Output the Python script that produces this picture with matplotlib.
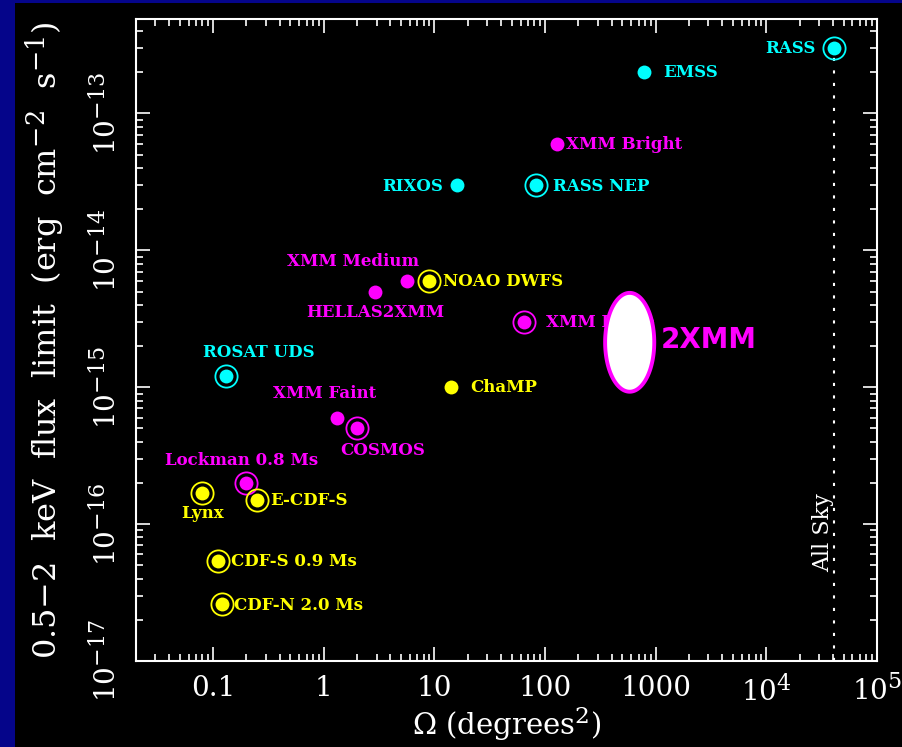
import numpy as np
import matplotlib
matplotlib.use("Agg")
import matplotlib.pyplot as plt
import matplotlib._mathtext as _mt
from matplotlib.patches import Rectangle
from matplotlib.transforms import blended_transform_factory

plt.rcParams['font.family'] = ['DejaVu Serif']
plt.rcParams['mathtext.fontset'] = 'dejavuserif'
# slightly larger exponents than the mathtext default
_mt.SHRINK_FACTOR = 0.8

# Survey name, area (deg^2), 0.5-2 keV flux limit, colour group, has ring
surveys = ["RASS", "EMSS", "XMM Bright", "RASS NEP", "RIXOS", "XMM Medium",
           "HELLAS2XMM", "NOAO DWFS", "XMM Large", "ROSAT UDS", "ChaMP",
           "XMM Faint", "COSMOS", "Lockman 0.8 Ms", "Lynx", "E-CDF-S",
           "CDF-S 0.9 Ms", "CDF-N 2.0 Ms"]
area = [41253, 780, 127, 82, 16, 5.7, 2.9, 9.0, 64, 0.13, 14,
        1.32, 2.0, 0.2, 0.08, 0.25, 0.11, 0.12]
flux = [3e-13, 2e-13, 6e-14, 3e-14, 3e-14, 6e-15, 5e-15, 6e-15, 3e-15,
        1.2e-15, 1e-15, 6e-16, 5e-16, 2e-16, 1.7e-16, 1.5e-16, 5.4e-17, 2.6e-17]
group = ["ROSAT", "ROSAT", "XMM", "ROSAT", "ROSAT", "XMM", "XMM", "Chandra",
         "XMM", "ROSAT", "Chandra", "XMM", "XMM", "XMM", "Chandra", "Chandra",
         "Chandra", "Chandra"]
ringed = [True, False, False, True, False, False, False, True, True, True,
          False, False, True, True, True, True, True, True]

# 2XMM catalogue region (log-space centre and half extents)
xmm2_area, xmm2_flux = 582.0, 2.13e-15
xmm2_half_dex_area, xmm2_half_dex_flux = 0.222, 0.361

all_sky = 41253.0

xticks = [0.1, 1, 10, 100, 1000, 1e4, 1e5]
xticklabels = ["0.1", "1", "10", "100", "1000", r"10$^4$", r"10$^5$"]
yticks = [1e-17, 1e-16, 1e-15, 1e-14, 1e-13]
yticklabels = [r"10$^{-17}$", r"10$^{-16}$", r"10$^{-15}$", r"10$^{-14}$", r"10$^{-13}$"]

colours = {"ROSAT": "#00FFFF", "XMM": "#FF00FF", "Chandra": "#FFFF00"}

# label placement: offset in pixels and alignment
label_layout = {
    "RASS": (-19, 0, "right"), "EMSS": (19, 0, "left"),
    "XMM Bright": (9, -1, "left"), "RASS NEP": (17, -1, "left"),
    "RIXOS": (-14, -1, "right"), "XMM Medium": (-54, 19, "center"),
    "HELLAS2XMM": (0, -21, "center"), "NOAO DWFS": (14, -1, "left"),
    "XMM Large": (22, -1, "left"), "ROSAT UDS": (33, 24, "center"),
    "ChaMP": (20, 0, "left"), "XMM Faint": (-12, 24, "center"),
    "COSMOS": (26, -22, "center"), "Lockman 0.8 Ms": (-5, 22, "center"),
    "Lynx": (0, -21, "center"), "E-CDF-S": (13, 0, "left"),
    "CDF-S 0.9 Ms": (13, -1, "left"), "CDF-N 2.0 Ms": (12, -1, "left"),
}

W, H = 903, 747
fig = plt.figure(figsize=(W / 100, H / 100), dpi=100, facecolor="#05058a")
fig.patches.append(Rectangle((15 / W, 0), 1, 1 - 3 / H, transform=fig.transFigure,
                             facecolor="black", edgecolor="none", zorder=-10))

ax = fig.add_axes([136 / W, (H - 661) / H, (877 - 136) / W, (661 - 19) / H])
ax.set_facecolor("black")
ax.set_xscale("log")
ax.set_yscale("log")
ax.set_xlim(0.0201, 1e5)
ax.set_ylim(1e-17, 4.9e-13)

for s in ax.spines.values():
    s.set_color("white")
    s.set_linewidth(1.5)

ax.tick_params(which="both", direction="in", top=True, right=True, colors="white",
               width=1.2)
ax.tick_params(which="major", length=10)
ax.tick_params(which="minor", length=5)
ax.tick_params(axis="x", which="major", labelsize=20, pad=10)
ax.tick_params(axis="y", which="major", labelsize=20, pad=10)
ax.set_xticks(xticks)
ax.set_xticklabels(xticklabels)
ax.set_yticks(yticks)
ax.set_yticklabels(yticklabels, rotation=90, va="center")

ax.set_xlabel(r"$\Omega$ (degrees$^2$)", color="white", fontsize=21, labelpad=-2)
ax.set_ylabel(r"0.5$-$2  keV  flux  limit  (erg  cm$^{-2}$  s$^{-1}$)", color="white",
              fontsize=23, labelpad=17)

# all-sky reference line
ax.plot([all_sky, all_sky], [ax.get_ylim()[0], flux[0]], color="white", lw=1.5,
        dashes=(1.5, 4.5), zorder=1)
ax.text(all_sky, 0.20, "All Sky", color="white", fontsize=16, rotation=90,
        ha="right", va="center",
        transform=blended_transform_factory(ax.transData, ax.transAxes))

for name, x, y, g, r in zip(surveys, area, flux, group, ringed):
    c = colours[g]
    ax.plot([x], [y], "o", ms=10, color=c, mec="none", zorder=3)
    if r:
        ax.plot([x], [y], "o", ms=16, mfc="none", mec=c, mew=1.3, zorder=3)
    dx, dy, ha = label_layout[name]
    ax.annotate(name, (x, y), xytext=(dx, dy), textcoords="offset pixels",
                ha=ha, va="center", color=c, fontsize=12, fontweight="bold",
                zorder=2)

# 2XMM region drawn as an ellipse in log-log space
t = np.linspace(0, 2 * np.pi, 200)
ex = 10 ** (np.log10(xmm2_area) + xmm2_half_dex_area * np.cos(t))
ey = 10 ** (np.log10(xmm2_flux) + xmm2_half_dex_flux * np.sin(t))
ax.fill(ex, ey, facecolor="white", edgecolor="#FF00FF", lw=2.8, zorder=5)
ax.annotate("2XMM", (xmm2_area * 10 ** xmm2_half_dex_area, xmm2_flux),
            xytext=(6, 2), textcoords="offset pixels", ha="left", va="center",
            color="#FF00FF", fontsize=20, fontweight="bold",
            family="DejaVu Sans", zorder=6)

fig.savefig("out.png", dpi=100, facecolor=fig.get_facecolor())
